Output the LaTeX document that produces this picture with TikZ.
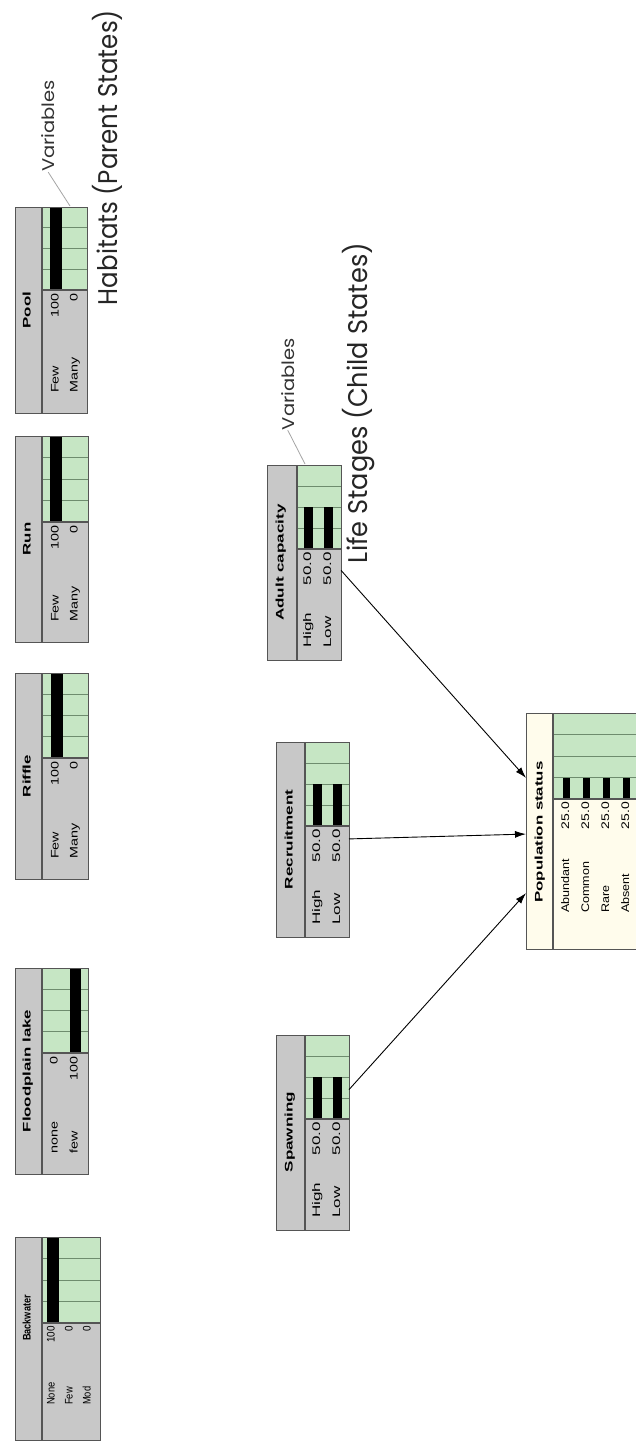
\documentclass[tikz,border=0pt]{standalone}
\usepackage{fontspec}
\setmainfont{Liberation Sans}
\newfontfamily\annofont{Poppins}
\usetikzlibrary{calc,arrows.meta}
\definecolor{nbgrey}{RGB}{200,200,200}
\definecolor{nbgreen}{RGB}{198,230,196}
\definecolor{nbcream}{RGB}{255,252,236}
\definecolor{nbgrid}{RGB}{110,140,110}
\definecolor{nbbord}{RGB}{85,85,85}
\definecolor{nblead}{RGB}{165,165,165}
\tikzset{
 boxbg/.style={rectangle, inner sep=0pt, outer sep=0pt, draw=none},
 gridline/.style={draw=nbgrid, line width=0.8pt},
 sepline/.style={draw=nbbord, line width=1.2pt},
 border/.style={draw=nbbord, line width=1pt},
 nt/.style={inner sep=0pt, rotate=90, font=\fontsize{11}{13}\selectfont},
 ntt/.style={inner sep=0pt, rotate=90, anchor=mid, font=\fontsize{11}{13}\selectfont\bfseries},
 anno/.style={inner sep=0pt, rotate=90, anchor=mid, font=\annofont\fontsize{27}{30}\selectfont, text=black!85},
 annos/.style={inner sep=0pt, rotate=90, anchor=mid, font=\annofont\fontsize{17}{20}\selectfont, text=black!80},
 leader/.style={draw=nblead, line width=0.8pt},
 arr/.style={draw=black, line width=0.9pt, -{Latex[length=11pt,width=7pt]}}
}
% name, x1, y1, x2, y2, strip x, bar bottom y, background, bars
\newcommand{\netnode}[9]{%
  \node[boxbg, fill=#8, minimum width={(#4-#2)*1pt}, minimum height={(#5-#3)*1pt}] (#1) at ({(#2+#4)/2},{(#3+#5)/2}) {};
  \fill[nbgreen] (#6,#3) rectangle (#4,#7);
  \foreach \k in {1,2,3} {\draw[gridline] (#6,{#7-(#7-#3)*\k/4}) -- (#4,{#7-(#7-#3)*\k/4});}
  #9
  \draw[sepline] (#6,#3) -- (#6,#5);
  \draw[sepline] (#6,#7) -- (#4,#7);
  \draw[border] (#1.north west) rectangle (#1.south east);
}
% x centre, width, bar bottom, length, fraction
\newcommand{\nbar}[5]{\fill[black] ({#1-#2/2},#3) rectangle ({#1+#2/2},{#3-#4*#5});}
\newcommand{\ntitle}[5]{\node[ntt] (#1) at (#2,#3) {\scalebox{#4}[1]{#5}};}
\newcommand{\nval}[5]{\node[nt, anchor=mid east] (#1) at (#2,#3) {\scalebox{#4}[1]{#5}};}
\newcommand{\nlab}[5]{\node[nt, anchor=mid west] (#1) at (#2,#3) {\scalebox{#4}[1]{#5}};}
\begin{document}
\begin{tikzpicture}[x=1pt,y=-1pt]
\useasboundingbox (0,0) rectangle (636,1442);
\fill[white] (0,0) rectangle (636,1442);

% ---------- parent nodes ----------
\netnode{pool}{15}{207}{87}{413}{42}{290}{nbgrey}{\nbar{56}{12}{290}{83}{1}}
\ntitle{t-pool}{28}{310}{1.53}{Pool}
\nval{v-pool-1}{56}{293}{1.3}{100}
\nval{v-pool-2}{75}{293}{1.3}{0}
\nlab{l-pool-1}{56}{393}{1.3}{Few}
\nlab{l-pool-2}{75}{393}{1.3}{Many}

\netnode{run}{15}{436}{88}{642}{42}{522}{nbgrey}{\nbar{56}{12}{522}{86}{1}}
\ntitle{t-run}{28}{539}{1.53}{Run}
\nval{v-run-1}{56}{525}{1.3}{100}
\nval{v-run-2}{75}{525}{1.3}{0}
\nlab{l-run-1}{56}{622}{1.3}{Few}
\nlab{l-run-2}{75}{622}{1.3}{Many}

\netnode{riffle}{15}{673}{88}{879}{42}{758}{nbgrey}{\nbar{57}{12}{758}{85}{1}}
\ntitle{t-riffle}{28}{776}{1.53}{Riffle}
\nval{v-riffle-1}{56}{761}{1.3}{100}
\nval{v-riffle-2}{75}{761}{1.3}{0}
\nlab{l-riffle-1}{56}{859}{1.3}{Few}
\nlab{l-riffle-2}{75}{859}{1.3}{Many}

\netnode{flood}{15}{968}{88}{1174}{42}{1053}{nbgrey}{\nbar{75}{11}{1053}{85}{1}}
\ntitle{t-flood}{28}{1071}{1.53}{Floodplain lake}
\nval{v-flood-1}{55}{1056}{1.3}{0}
\nval{v-flood-2}{75}{1056}{1.3}{100}
\nlab{l-flood-1}{55}{1154}{1.3}{none}
\nlab{l-flood-2}{75}{1154}{1.3}{few}

\netnode{back}{15}{1237}{100}{1440}{42}{1323}{nbgrey}{\nbar{53}{12}{1323}{86}{1}}
\ntitle{t-back}{28}{1318}{0.83}{Backwater}
\nval{v-back-1}{52}{1326}{0.9}{100}
\nval{v-back-2}{70}{1326}{0.9}{0}
\nval{v-back-3}{88}{1326}{0.9}{0}
\nlab{l-back-1}{52}{1405}{0.85}{None}
\nlab{l-back-2}{70}{1405}{0.85}{Few}
\nlab{l-back-3}{88}{1405}{0.85}{Mod}

% ---------- child nodes ----------
\netnode{adult}{267}{465}{341}{660}{297}{549}{nbgrey}{\nbar{308.5}{9}{549}{84}{0.5}\nbar{328.5}{9}{549}{84}{0.5}}
\ntitle{t-adult}{281}{562.5}{1.55}{Adult capacity}
\nval{v-adult-1}{308.5}{552}{1.55}{50.0}
\nval{v-adult-2}{328.5}{552}{1.55}{50.0}
\nlab{l-adult-1}{308.5}{648}{1.55}{High}
\nlab{l-adult-2}{328.5}{648}{1.55}{Low}

\netnode{recr}{276}{742}{349}{937}{305}{826}{nbgrey}{\nbar{317.5}{9}{826}{84}{0.5}\nbar{337.5}{9}{826}{84}{0.5}}
\ntitle{t-recr}{290}{839.5}{1.55}{Recruitment}
\nval{v-recr-1}{317.5}{829}{1.55}{50.0}
\nval{v-recr-2}{337.5}{829}{1.55}{50.0}
\nlab{l-recr-1}{317.5}{925}{1.55}{High}
\nlab{l-recr-2}{337.5}{925}{1.55}{Low}

\netnode{spawn}{276}{1035}{349}{1230}{305}{1119}{nbgrey}{\nbar{317.5}{9}{1119}{84}{0.5}\nbar{337.5}{9}{1119}{84}{0.5}}
\ntitle{t-spawn}{290}{1132}{1.55}{Spawning}
\nval{v-spawn-1}{317.5}{1122}{1.55}{50.0}
\nval{v-spawn-2}{337.5}{1122}{1.55}{50.0}
\nlab{l-spawn-1}{317.5}{1218}{1.55}{High}
\nlab{l-spawn-2}{337.5}{1218}{1.55}{Low}

\netnode{pop}{526}{713}{650}{949}{553}{799}{nbcream}{\nbar{566.5}{7}{799}{86}{0.25}\nbar{586.5}{7}{799}{86}{0.25}\nbar{606.5}{7}{799}{86}{0.25}\nbar{626.5}{7}{799}{86}{0.25}}
\ntitle{t-pop}{540}{832}{1.53}{Population status}
\nval{v-pop-1}{566.5}{802}{1.27}{25.0}
\nval{v-pop-2}{586.5}{802}{1.27}{25.0}
\nval{v-pop-3}{606.5}{802}{1.27}{25.0}
\nval{v-pop-4}{626.5}{802}{1.27}{25.0}
\nlab{l-pop-1}{566.5}{913}{1.14}{Abundant}
\nlab{l-pop-2}{586.5}{913}{1.14}{Common}
\nlab{l-pop-3}{606.5}{913}{1.14}{Rare}
\nlab{l-pop-4}{626.5}{913}{1.14}{Absent}

% ---------- connectors ----------
\draw[arr] ($(adult.north east)!0.54!(adult.south east)$) -- ($(pop.north west)!0.275!(pop.south west)$);
\draw[arr] ($(recr.north east)!0.497!(recr.south east)$) -- ($(pop.north west)!0.513!(pop.south west)$);
\draw[arr] ($(spawn.north east)!0.28!(spawn.south east)$) -- ($(pop.north west)!0.763!(pop.south west)$);

% ---------- annotations ----------
\node[anno] (hab) at (114.5,157.5) {\resizebox{295pt}{\height}{Habitats (Parent States)}};
\node[anno] (life) at (364.5,403) {\resizebox{320pt}{\height}{Life Stages (Child States)}};
\node[annos] (var1) at (52,126) {\resizebox{92pt}{\height}{Variables}};
\node[annos] (var2) at (291.5,384) {\resizebox{92pt}{\height}{Variables}};
\coordinate (poolvar) at (70,206);
\coordinate (adultvar) at (305,464);
\draw[leader] (var1.west) -- (poolvar);
\draw[leader] (var2.west) -- (adultvar);
\end{tikzpicture}
\end{document}
